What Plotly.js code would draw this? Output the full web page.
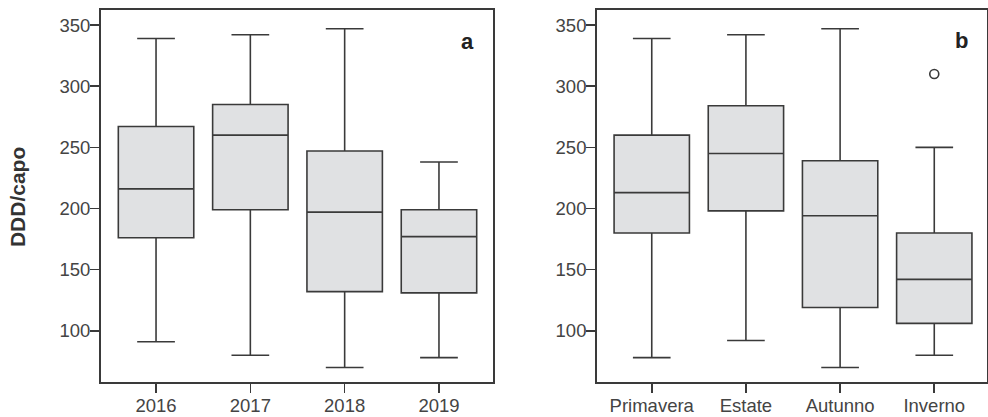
<!DOCTYPE html>
<html>
<head>
<meta charset="utf-8">
<script src="https://cdn.plot.ly/plotly-3.0.1.min.js"></script>
<style>html,body{margin:0;padding:0;background:#fff;}#chart{width:988px;height:417px;}</style>
</head>
<body>
<div id="chart"></div>
<script>
// Panel a: years
const yearCats = ["2016", "2017", "2018", "2019"];
const yearLower = [91, 80, 70, 78];
const yearQ1 = [176, 199, 132, 131];
const yearMedian = [216, 260, 197, 177];
const yearQ3 = [267, 285, 247, 199];
const yearUpper = [339, 342, 347, 238];

// Panel b: seasons
const seasonCats = ["Primavera", "Estate", "Autunno", "Inverno"];
const seasonLower = [78, 92, 70, 80];
const seasonQ1 = [180, 198, 119, 106];
const seasonMedian = [213, 245, 194, 142];
const seasonQ3 = [260, 284, 239, 180];
const seasonUpper = [339, 342, 347, 250];
const outlierCat = ["Inverno"];
const outlierVal = [310];

const yTicks = [100, 150, 200, 250, 300, 350];

const ink = "#3a3a3a";
const fill = "#e0e1e3";

function boxTrace(cats, lo, q1, med, q3, hi, xa, ya) {
  return {
    type: "box",
    x: cats,
    lowerfence: lo, q1: q1, median: med, q3: q3, upperfence: hi,
    xaxis: xa, yaxis: ya,
    width: 0.8,
    whiskerwidth: 0.5,
    fillcolor: fill,
    line: {color: ink, width: 1.6},
    boxpoints: false,
    hoverinfo: "skip",
    showlegend: false
  };
}

const traces = [
  boxTrace(yearCats, yearLower, yearQ1, yearMedian, yearQ3, yearUpper, "x", "y"),
  boxTrace(seasonCats, seasonLower, seasonQ1, seasonMedian, seasonQ3, seasonUpper, "x2", "y2"),
  {
    type: "scatter", mode: "markers",
    x: outlierCat, y: outlierVal, xaxis: "x2", yaxis: "y2",
    marker: {symbol: "circle-open", size: 9, color: ink, line: {width: 1.6, color: ink}},
    showlegend: false, hoverinfo: "skip"
  }
];

const tickFont = {family: "Liberation Sans, Arial, sans-serif", size: 18.5, color: "#444444"};
const yRange = [58.1, 362.3];

function xAxis(domain, cats, range, anchor) {
  return {
    domain: domain, anchor: anchor, type: "category",
    categoryorder: "array", categoryarray: cats,
    range: range,
    showline: true, mirror: true, linecolor: ink, linewidth: 1.6,
    ticks: "outside", ticklen: 9, tickwidth: 1.6, tickcolor: ink,
    ticklabelstandoff: -3,
    showgrid: false, zeroline: false,
    tickfont: tickFont, fixedrange: true
  };
}
function yAxis(anchor) {
  return {
    anchor: anchor, range: yRange, tickvals: yTicks,
    showline: true, mirror: true, linecolor: ink, linewidth: 1.6,
    ticks: "outside", ticklen: 9, tickwidth: 1.6, tickcolor: ink,
    ticklabelstandoff: -4,
    showgrid: false, zeroline: false,
    tickfont: tickFont, fixedrange: true
  };
}

const layout = {
  width: 988, height: 417,
  margin: {l: 0, r: 0, t: 10, b: 35},
  paper_bgcolor: "#ffffff", plot_bgcolor: "#ffffff",
  showlegend: false,
  xaxis: xAxis([0.1019, 0.499], yearCats, [-0.587, 3.573], "y"),
  yaxis: yAxis("x"),
  xaxis2: xAxis([0.604, 0.999], seasonCats, [-0.584, 3.56], "y2"),
  yaxis2: yAxis("x2"),
  annotations: [
    {text: "DDD/capo", xref: "paper", yref: "paper", x: 17/988, y: 0.497,
     textangle: -90, showarrow: false, xanchor: "center", yanchor: "middle",
     font: {family: "Liberation Sans, Arial, sans-serif", size: 21, color: "#333333", weight: "bold"}},
    {text: "<b>a</b>", xref: "paper", yref: "paper", x: 0.4727, y: 0.914,
     showarrow: false, xanchor: "center", yanchor: "middle",
     font: {family: "Liberation Sans, Arial, sans-serif", size: 22, color: "#222"}},
    {text: "<b>b</b>", xref: "paper", yref: "paper", x: 0.9734, y: 0.919,
     showarrow: false, xanchor: "center", yanchor: "middle",
     font: {family: "Liberation Sans, Arial, sans-serif", size: 22, color: "#222"}}
  ]
};

Plotly.newPlot("chart", traces, layout, {displayModeBar: false, staticPlot: true});
</script>
</body>
</html>
